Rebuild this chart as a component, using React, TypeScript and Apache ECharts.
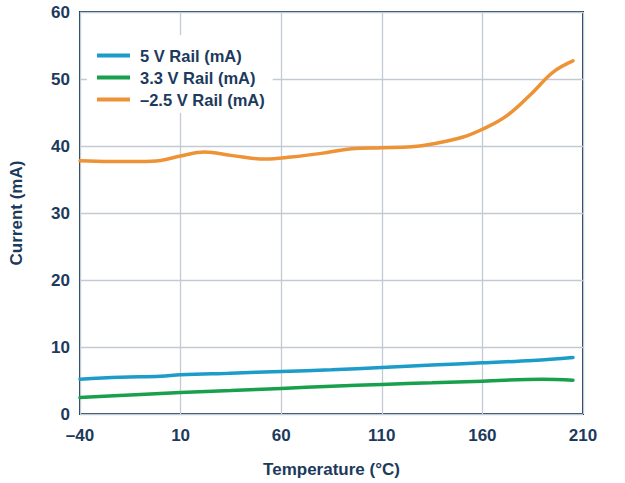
import React, { useEffect, useRef } from "react";
import * as echarts from "echarts";

const temps5V = [-40, -20, 0, 10, 35, 60, 85, 110, 135, 160, 185, 205];
const rail5V = [5.2, 5.5, 5.65, 5.85, 6.1, 6.35, 6.6, 6.95, 7.3, 7.65, 8.0, 8.45];

const temps33V = [-40, -15, 10, 35, 60, 85, 110, 135, 160, 190, 205];
const rail33V = [2.45, 2.85, 3.2, 3.5, 3.82, 4.15, 4.42, 4.65, 4.9, 5.2, 5.05];

const tempsNeg25V = [-40, -25, -10, 0, 10, 22, 35, 52, 65, 80, 95, 110, 125, 135, 150, 160, 172, 185, 195, 205];
const railNeg25V = [37.8, 37.7, 37.7, 37.85, 38.5, 39.1, 38.6, 38.05, 38.35, 38.9, 39.6, 39.75, 39.9, 40.3, 41.3, 42.5, 44.5, 48.0, 51.0, 52.7];

const seriesNames = ["5 V Rail (mA)", "3.3 V Rail (mA)", "\u20132.5 V Rail (mA)"];
const seriesColors = ["#1c9cc8", "#18a04c", "#ee9236"];

const xTitle = "Temperature (\u00b0C)";
const yTitle = "Current (mA)";

const NAVY = "#1c3a5c";
const FONT = "'Liberation Sans', Arial, sans-serif";

function pairs(xs: number[], ys: number[]) {
  return xs.map((x, i) => [x, ys[i]]);
}

export default function App() {
  const ref = useRef<HTMLDivElement>(null);
  useEffect(() => {
    if (!ref.current) return;
    const chart = echarts.init(ref.current, undefined, { renderer: "svg" });
    const data = [pairs(temps5V, rail5V), pairs(temps33V, rail33V), pairs(tempsNeg25V, railNeg25V)];
    chart.setOption({
      animation: false,
      backgroundColor: "#ffffff",
      grid: {
        left: 72,
        right: 42,
        top: 12,
        bottom: 62.5,
        show: true,
        borderColor: NAVY,
        borderWidth: 2,
        containLabel: false,
      },
      legend: {
        orient: "vertical",
        left: 87,
        top: 35,
        backgroundColor: "#ffffff",
        padding: [12, 8, 5, 10],
        itemGap: 5,
        itemWidth: 33,
        itemHeight: 4,
        icon: "rect",
        data: seriesNames,
        textStyle: {
          color: NAVY,
          fontSize: 16.5,
          fontWeight: "bold",
          fontFamily: FONT,
          padding: [0, 0, 0, 5],
        },
      },
      xAxis: {
        type: "value",
        min: -40,
        max: 210,
        interval: 50,
        name: xTitle,
        nameLocation: "middle",
        nameGap: 47,
        nameTextStyle: { color: NAVY, fontSize: 17, fontWeight: "bold", fontFamily: FONT },
        axisLine: { show: false },
        axisTick: { show: false },
        axisLabel: {
          color: NAVY,
          fontSize: 17,
          fontWeight: "bold",
          fontFamily: FONT,
          margin: 13,
          formatter: (v: number) => (v < 0 ? "\u2013" + Math.abs(v) : String(v)),
        },
        splitLine: { show: true, lineStyle: { color: "#c3cad4", width: 1.3 } },
      },
      yAxis: {
        type: "value",
        min: 0,
        max: 60,
        interval: 10,
        name: yTitle,
        nameLocation: "middle",
        nameRotate: 90,
        nameGap: 55,
        nameTextStyle: { color: NAVY, fontSize: 17, fontWeight: "bold", fontFamily: FONT },
        axisLine: { show: false },
        axisTick: { show: false },
        axisLabel: {
          color: NAVY,
          fontSize: 17,
          fontWeight: "bold",
          fontFamily: FONT,
          margin: 10,
        },
        splitLine: { show: true, lineStyle: { color: "#c3cad4", width: 1.3 } },
      },
      series: seriesNames.map((name, i) => ({
        name,
        type: "line",
        data: data[i],
        smooth: 0.4,
        showSymbol: false,
        symbol: "none",
        color: seriesColors[i],
        lineStyle: { width: 3.5, color: seriesColors[i], cap: "round" },
        z: 3,
      })),
    });
    return () => chart.dispose();
  }, []);
  return (
    <div
      ref={ref}
      style={{ position: "absolute", left: 0, top: 0, width: 625, height: 483 }}
    />
  );
}
